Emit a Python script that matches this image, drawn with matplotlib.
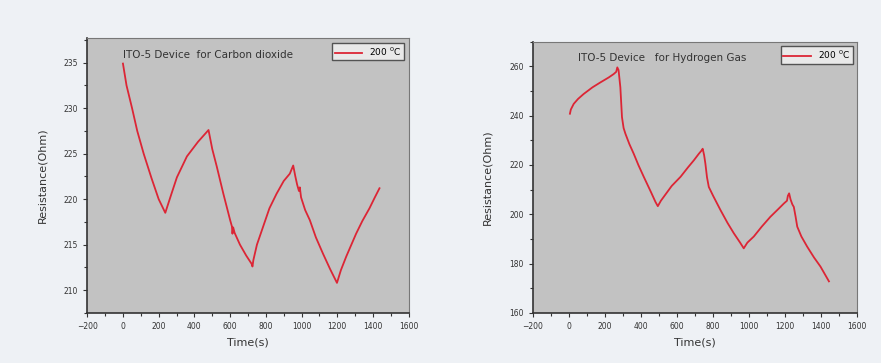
import numpy as np
import matplotlib.pyplot as plt
from matplotlib.ticker import MultipleLocator

# CO2 response
co2_time = [0, 20, 51, 80, 116, 160, 200, 237, 270, 302, 358, 420, 479,
            500, 525, 562, 600, 610, 613, 617, 625, 655, 690, 710, 720, 725,
            730, 750, 785, 820, 860, 900, 934, 953, 965, 975, 985, 990, 997,
            1020, 1046, 1080, 1120, 1160, 1198, 1220, 1250, 1305, 1340,
            1380, 1410, 1436]
co2_res = [234.9, 232.5, 230.0, 227.5, 225.0, 222.3, 220.0, 218.5, 220.5,
           222.4, 224.7, 226.3, 227.6, 225.5, 223.6, 220.6, 217.7, 217.0,
           216.2, 216.9, 216.3, 215.0, 213.8, 213.2, 212.9, 212.6, 213.3,
           215.0, 217.0, 219.0, 220.6, 222.0, 222.8, 223.7, 222.5, 221.6,
           220.9, 221.3, 220.2, 218.8, 217.7, 215.8, 214.0, 212.3, 210.8,
           212.2, 213.7, 216.2, 217.6, 219.0, 220.2, 221.2]

# H2 response
h2_time = [5, 10, 26, 50, 81, 130, 174, 220, 248, 262, 268, 275, 285, 294,
           303, 313, 335, 359, 385, 415, 455, 480, 493, 510, 526, 570, 619,
           660, 693, 720, 735, 742, 750, 757, 766, 776, 800, 841, 880, 915,
           950, 970, 990, 1026, 1070, 1118, 1160, 1193, 1210, 1215, 1222,
           1230, 1240, 1248, 1258, 1267, 1290, 1322, 1360, 1396, 1443]
h2_res = [240.8, 242.5, 244.8, 246.8, 248.8, 251.5, 253.5, 255.5, 256.9,
          257.8, 259.6, 258.5, 251.5, 239.4, 235.0, 232.7, 228.5, 224.6,
          220.0, 215.2, 209.0, 205.0, 203.3, 205.5, 207.1, 211.5, 215.2,
          219.0, 221.9, 224.5, 225.8, 226.6, 224.0, 220.6, 215.0, 211.1,
          207.5, 201.7, 196.5, 192.3, 188.5, 186.2, 188.5, 191.0, 195.0,
          199.0, 202.0, 204.4, 205.5, 207.5, 208.5, 206.0, 204.0, 203.0,
          199.0, 195.0, 191.0, 186.9, 182.5, 178.8, 172.8]

fig = plt.figure(figsize=(8.81, 3.63), dpi=100, facecolor='#eef1f5')

panels = [
    dict(rect=[0.099, 0.138, 0.365, 0.757], t=co2_time, r=co2_res,
         ylim=(207.5, 237.7), major=5, minor=2.5,
         title="ITO-5 Device  for Carbon dioxide", title_x=0.11),
    dict(rect=[0.605, 0.138, 0.368, 0.747], t=h2_time, r=h2_res,
         ylim=(160, 270), major=20, minor=10,
         title="ITO-5 Device   for Hydrogen Gas", title_x=0.14),
]

for p in panels:
    ax = fig.add_axes(p['rect'])
    ax.set_facecolor('#c2c2c2')
    ax.plot(p['t'], p['r'], color='#dc2535', lw=1.3, label='200 $^0$C')
    ax.set_xlim(-200, 1600)
    ax.set_ylim(*p['ylim'])
    ax.xaxis.set_major_locator(MultipleLocator(200))
    ax.xaxis.set_minor_locator(MultipleLocator(100))
    ax.yaxis.set_major_locator(MultipleLocator(p['major']))
    ax.yaxis.set_minor_locator(MultipleLocator(p['minor']))
    ax.tick_params(which='both', direction='out', labelsize=5.5,
                   colors='#333333', width=0.8)
    ax.tick_params(which='major', length=3)
    ax.tick_params(which='minor', length=2)
    for s in ['left', 'bottom']:
        ax.spines[s].set_color('#333333')
        ax.spines[s].set_linewidth(1.2)
    for s in ['top', 'right']:
        ax.spines[s].set_color('#777777')
        ax.spines[s].set_linewidth(0.8)
    ax.set_xlabel("Time(s)", fontsize=8, color='#333333', labelpad=5)
    ax.set_ylabel("Resistance(Ohm)", fontsize=8, color='#333333', labelpad=12)
    ax.text(p['title_x'], 0.94, p['title'], transform=ax.transAxes,
            fontsize=7.5, color='#333333', va='center')
    leg = ax.legend(loc='upper right', fontsize=6.5, frameon=True,
                    fancybox=False, borderpad=0.3, handlelength=3,
                    borderaxespad=0.5)
    leg.get_frame().set_edgecolor('#333333')
    leg.get_frame().set_facecolor('#f4f4f4')
    leg.get_frame().set_linewidth(1.0)

fig.savefig('out.png', dpi=100, facecolor=fig.get_facecolor())
